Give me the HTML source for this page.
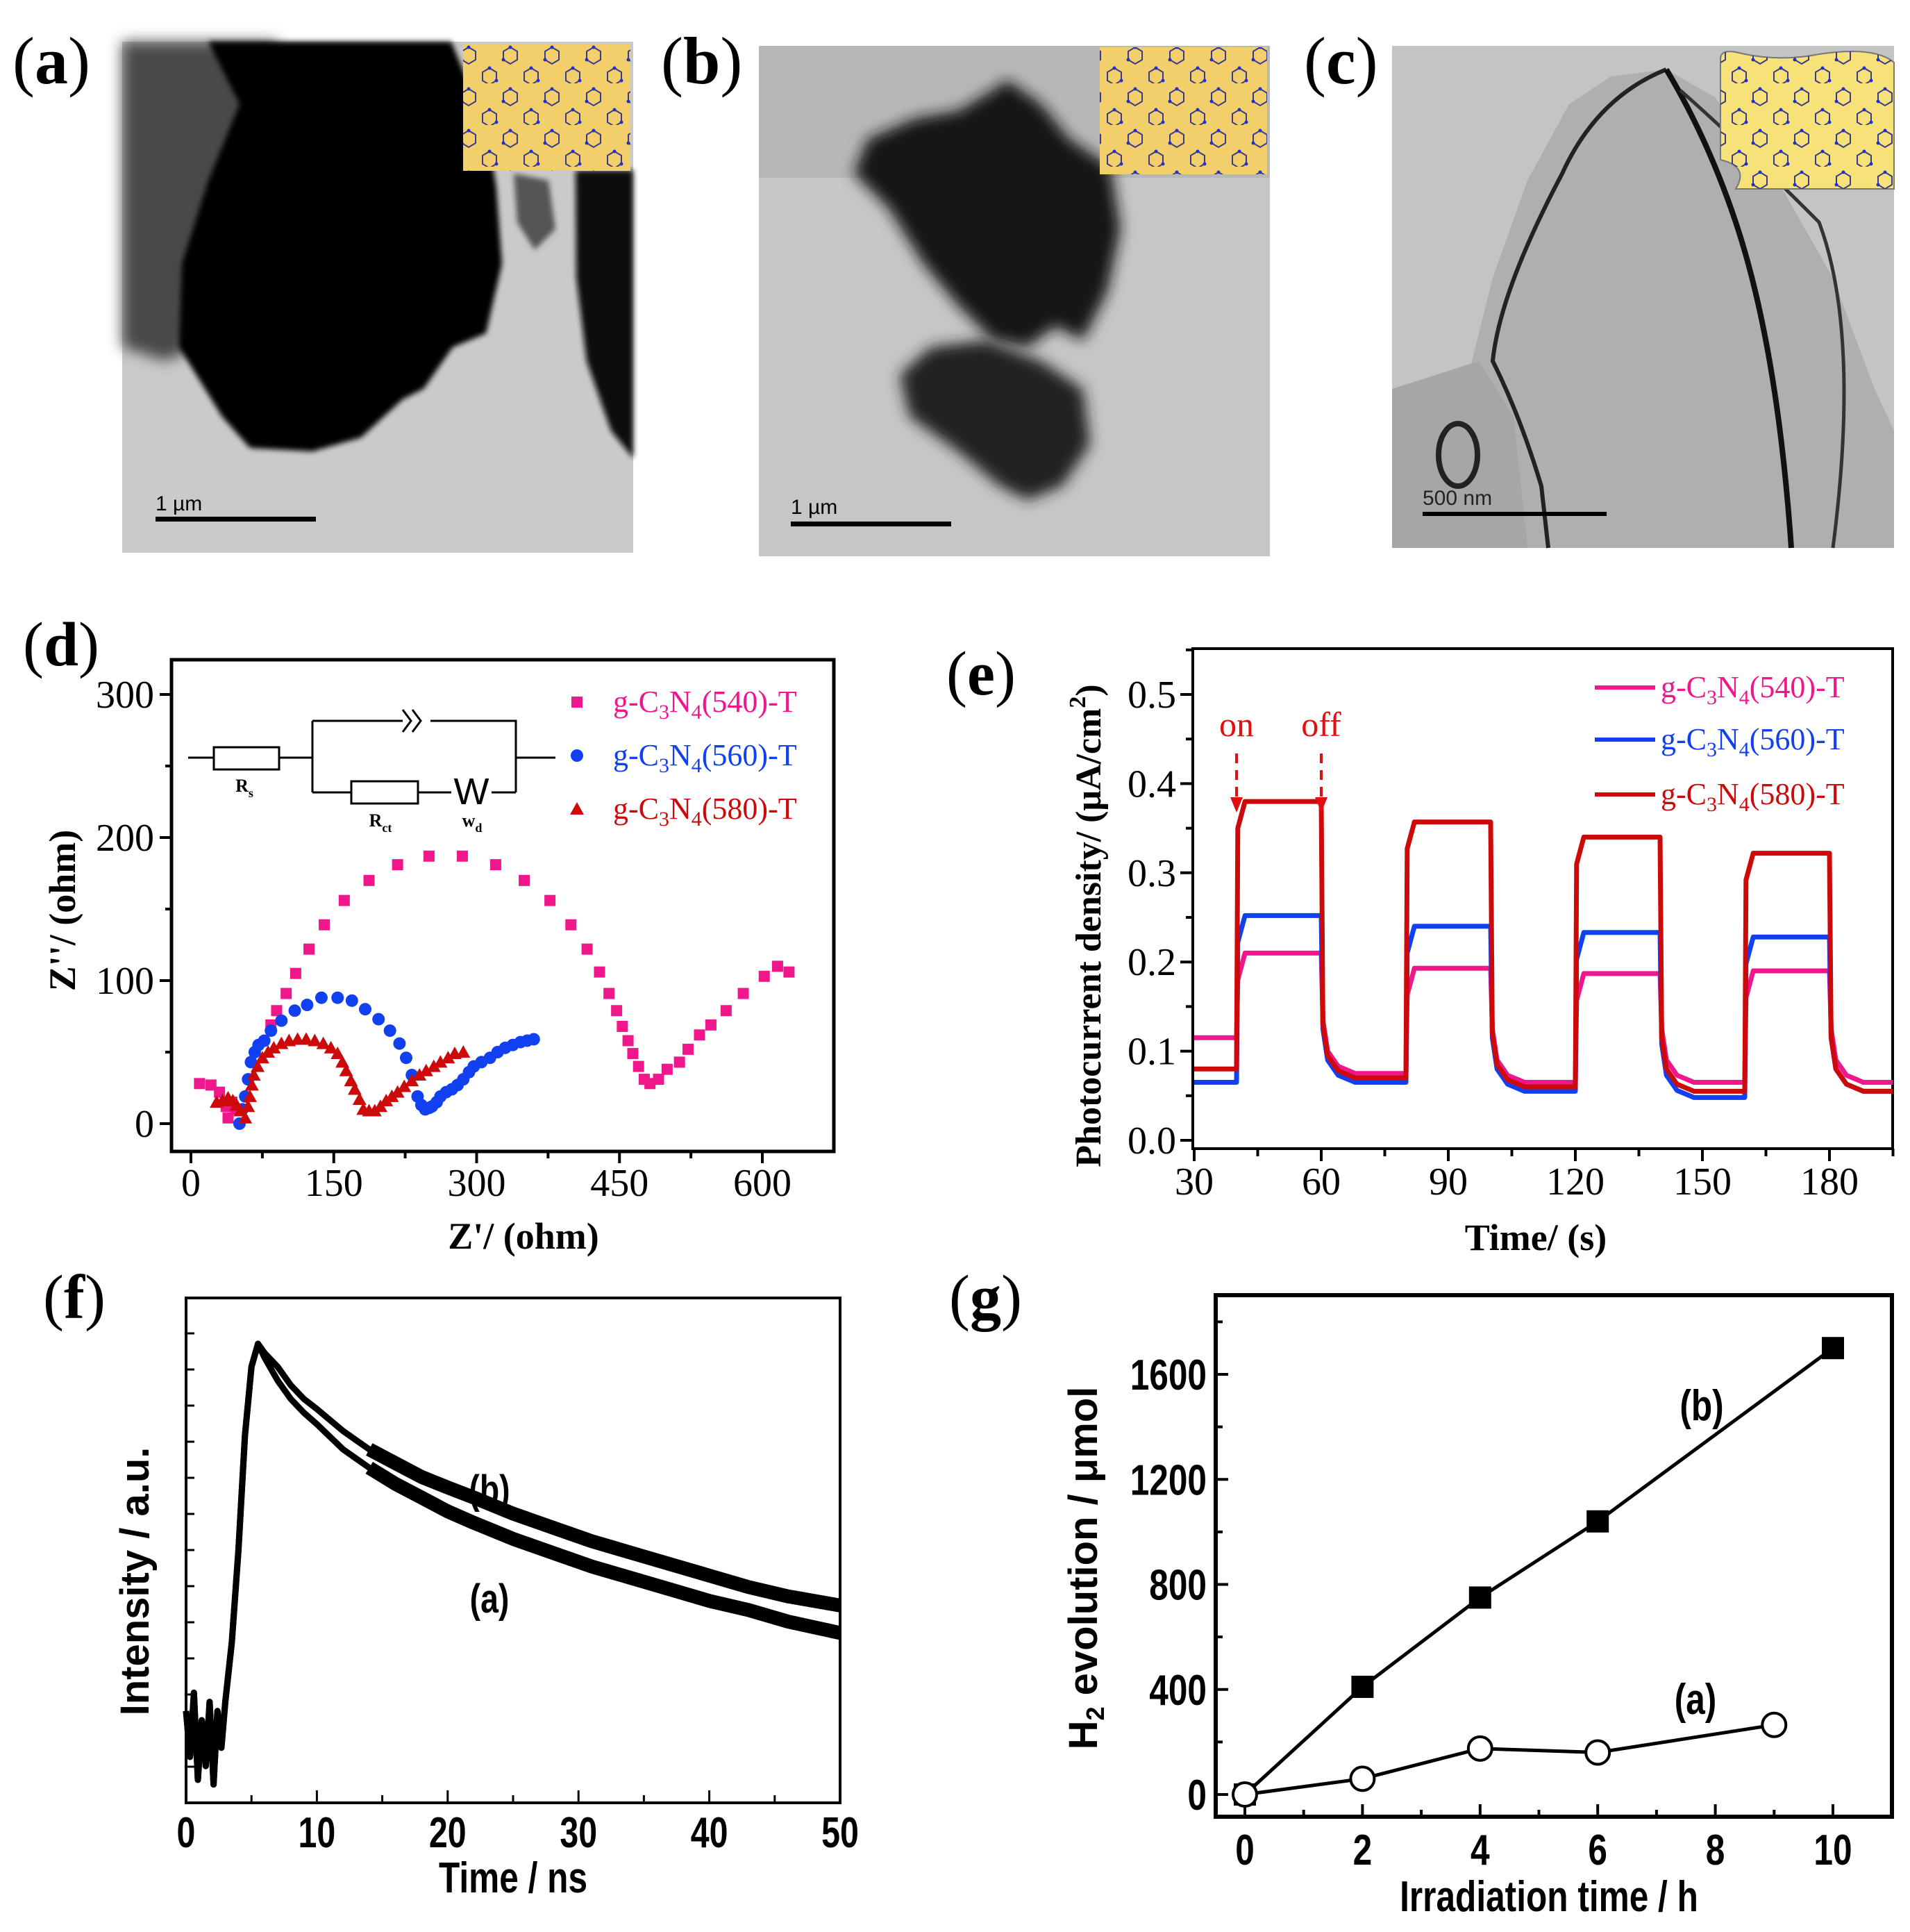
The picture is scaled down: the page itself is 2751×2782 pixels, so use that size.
<!DOCTYPE html>
<html><head><meta charset="utf-8"><style>
html,body{margin:0;padding:0;background:#fff;}
svg{display:block;}
.serif{font-family:"Liberation Serif",serif;}
.sans{font-family:"Liberation Sans",sans-serif;}
</style></head><body>
<svg id="fig" width="2751" height="2782" viewBox="0 0 2751 2782" xmlns="http://www.w3.org/2000/svg">
<defs>
<pattern id="hexpat" width="60" height="60" patternUnits="userSpaceOnUse">
<path d="M15 8 l10 6 v12 l-10 6 l-10 -6 v-12z M45 38 l10 6 v12 l-10 6 l-10 -6 v-12z" fill="none" stroke="#3a3a8a" stroke-width="2"/>
<circle cx="15" cy="8" r="2.5" fill="#2030d0"/><circle cx="5" cy="26" r="2.5" fill="#2030d0"/><circle cx="45" cy="38" r="2.5" fill="#2030d0"/><circle cx="55" cy="56" r="2.5" fill="#2030d0"/>
</pattern>
<filter id="blur4"><feGaussianBlur stdDeviation="4"/></filter>
<filter id="blur10"><feGaussianBlur stdDeviation="10"/></filter>
</defs>

<!-- TEM panel a -->
<g>
<rect x="176" y="60" width="736" height="736" fill="#cacaca"/>
<path d="M176 60 H400 L380 140 L330 240 L290 380 L280 500 L240 520 L176 500Z" fill="#4a4a4a" filter="url(#blur10)"/>
<path d="M240 60 H650 L700 180 L715 270 L723 380 L700 480 L652 500 L610 560 L580 575 L520 630 L450 650 L360 645 L320 600 L258 500 L262 380 L300 260 L345 150 L300 60Z" fill="#050505" filter="url(#blur4)"/>
<path d="M829 245 H912 V660 L880 620 L845 520 L830 400Z" fill="#0a0a0a" filter="url(#blur4)"/>
<path d="M740 250 L790 260 L800 330 L770 360 L745 320Z" fill="#555" filter="url(#blur4)"/>
<rect x="224" y="744" width="231" height="7" fill="#000"/>
<text x="224" y="735" class="sans" font-size="30" fill="#000">1 µm</text>
<rect x="667" y="64" width="241" height="182" fill="#f2cf6a"/>
<rect x="667" y="64" width="241" height="182" fill="url(#hexpat)"/>
</g>
<text x="18" y="120" class="serif" font-size="96">(<tspan font-weight="bold">a</tspan>)</text>

<!-- TEM panel b -->
<g>
<rect x="1093" y="66" width="736" height="735" fill="#c6c6c6"/>
<rect x="1093" y="66" width="736" height="190" fill="#b7b7b7"/>
<path d="M1450 115 L1500 150 L1540 200 L1600 240 L1614 330 L1595 420 L1560 490 L1520 470 L1480 500 L1430 490 L1380 440 L1330 380 L1280 300 L1230 250 L1250 200 L1320 170 L1380 160 L1430 130Z" fill="#161616" filter="url(#blur10)"/>
<path d="M1340 500 L1420 490 L1500 520 L1560 560 L1570 640 L1530 700 L1480 720 L1440 700 L1380 650 L1310 600 L1296 540Z" fill="#222" filter="url(#blur10)"/>
<rect x="1139" y="751" width="231" height="7" fill="#000"/>
<text x="1139" y="740" class="sans" font-size="30" fill="#000">1 µm</text>
<rect x="1584" y="68" width="241" height="183" fill="#f2cf6a"/>
<rect x="1584" y="68" width="241" height="183" fill="url(#hexpat)"/>
</g>
<text x="952" y="120" class="serif" font-size="96">(<tspan font-weight="bold">b</tspan>)</text>

<!-- TEM panel c -->
<g>
<rect x="2005" y="66" width="723" height="723" fill="#c4c4c4"/>
<path d="M2320 110 L2400 100 L2470 140 L2560 260 L2640 400 L2700 560 L2728 620 V789 H2130 L2100 600 L2150 400 L2200 260 L2260 150Z" fill="#afafaf"/>
<path d="M2005 560 L2130 520 L2180 600 L2200 789 H2005Z" fill="#a6a6a6"/>
<path d="M2400 100 Q2300 140 2250 250 Q2160 420 2150 520 Q2190 600 2220 700 L2230 789" fill="none" stroke="#222" stroke-width="6"/>
<path d="M2400 100 Q2460 200 2500 320 Q2560 500 2580 789" fill="none" stroke="#111" stroke-width="8"/>
<path d="M2420 130 Q2500 200 2620 320 Q2680 480 2640 789" fill="none" stroke="#333" stroke-width="5"/>
<ellipse cx="2100" cy="655" rx="28" ry="45" fill="none" stroke="#222" stroke-width="8"/>
<rect x="2049" y="737" width="265" height="6" fill="#000"/>
<text x="2049" y="727" class="sans" font-size="30" fill="#222">500 nm</text>
<path d="M2478 85 Q2478 71 2500 75 Q2560 90 2620 78 Q2700 66 2728 90 V272 H2500 Q2520 240 2478 230Z" fill="#f7e27a" stroke="#777" stroke-width="2"/>
<path d="M2478 85 Q2478 71 2500 75 Q2560 90 2620 78 Q2700 66 2728 90 V272 H2500 Q2520 240 2478 230Z" fill="url(#hexpat)"/>
</g>
<text x="1878" y="120" class="serif" font-size="96">(<tspan font-weight="bold">c</tspan>)</text>

<!-- panel labels lower -->
<text x="33" y="958" class="serif" font-size="90">(<tspan font-weight="bold">d</tspan>)</text>
<text x="1363" y="1000" class="serif" font-size="90">(<tspan font-weight="bold">e</tspan>)</text>
<text x="62" y="1898" class="serif" font-size="90">(<tspan font-weight="bold">f</tspan>)</text>
<text x="1367" y="1898" class="serif" font-size="90">(<tspan font-weight="bold">g</tspan>)</text>

<g id="pd"></g><g id="pe"></g><g id="pf"></g><g id="pg"></g>
</svg>
<script>
// ---------- Panel d data ----------
const d540X=[9,21,30,37,39,43,47,84,90,100,110,124,140,161,187,217,250,285,320,350,377,399,416,429,439,447,453,459,464,470,476,482,491,500,513,522,534,546,562,580,602,616,628];
const d540Y=[28,27,22,12,4,15,10,69,79,91,105,122,139,156,170,181,187,187,181,170,156,139,122,106,91,79,68,58,49,40,31,28,31,38,43,52,62,69,79,91,103,110,106];
const d560X=[51,54,57,60,63,67,71,77,84,95,109,122,137,154,169,183,197,209,219,226,232,238,242,246,250,253,258,262,268,274,280,286,292,297,305,314,322,330,338,346,353,360];
const d560Y=[0,10,19,31,43,50,55,58,65,72,79,83,88,88,86,80,73,65,56,46,34,19,13,10,11,12,15,19,22,24,27,31,36,40,43,46,50,53,55,57,58,59];
const d580X=[27,33,39,44,48,52,57,60,62,64,66,70,75,81,87,95,103,112,121,130,139,147,154,159,163,168,172,177,181,187,193,199,205,211,217,224,232,240,247,255,262,270,277,286];
const d580Y=[15,16,18,16,13,9,4,12,19,27,34,40,46,50,53,56,58,59,59,58,56,53,49,43,37,30,24,17,10,9,9,12,16,19,22,26,30,34,37,40,43,46,49,50];
const dXTicks=[0,150,300,450,600];
const dYTicks=[0,100,200,300];
// ---------- Panel e data ----------
const eOnTimes=[40,80,120,160];
const eOffTimes=[60,100,140,180];
const e540On=[0.21,0.193,0.187,0.19];
const e540Off=[0.115,0.075,0.065,0.065,0.065];
const e560On=[0.252,0.24,0.233,0.228];
const e560Off=[0.065,0.065,0.055,0.048,0.055];
const e580On=[0.38,0.357,0.34,0.322];
const e580Off=[0.08,0.07,0.06,0.055,0.055];
const eXTicks=[30,60,90,120,150,180];
const eYTicks=[0.0,0.1,0.2,0.3,0.4,0.5];
// ---------- Panel f data ----------
const fT=[0,0.3,0.6,0.9,1.2,1.5,1.8,2.1,2.4,2.7,3,3.5,4,4.5,5,5.5,6,7,8,9,10,12,14,16,18,20,22,25,28,31,34,37,40,43,46,50];
const fA=[0.2,0.1,0.24,0.05,0.18,0.08,0.22,0.04,0.2,0.12,0.22,0.35,0.55,0.8,0.95,1.0,0.97,0.92,0.88,0.85,0.825,0.77,0.73,0.695,0.665,0.635,0.61,0.575,0.545,0.515,0.49,0.465,0.44,0.42,0.395,0.37];
const fB=[0.2,0.1,0.24,0.05,0.18,0.08,0.22,0.04,0.2,0.12,0.22,0.35,0.55,0.8,0.95,1.0,0.98,0.95,0.91,0.88,0.858,0.81,0.77,0.74,0.71,0.687,0.665,0.63,0.6,0.57,0.545,0.52,0.495,0.47,0.45,0.43];
const fXTicks=[0,10,20,30,40,50];
// ---------- Panel g data ----------
const gBX=[0,2,4,6,10];
const gBY=[0,410,750,1040,1700];
const gAX=[0,2,4,6,9];
const gAY=[0,60,175,160,265];
const gXTicks=[0,2,4,6,8,10];
const gYTicks=[0,400,800,1200,1600];

const NS='http://www.w3.org/2000/svg';
function mk(parent,tag,attrs){const e=document.createElementNS(NS,tag);for(const k in attrs)e.setAttribute(k,attrs[k]);parent.appendChild(e);return e;}
function txt(parent,x,y,s,attrs){const t=mk(parent,'text',Object.assign({x:x,y:y},attrs));t.textContent=s;return t;}

// ===== Panel d =====
(function(){
const g=document.getElementById('pd');
const X=v=>275+v*(1098-275)/600, Y=v=>1618-v*(1618-1000)/300;
let el=mk(g,'rect',{x:247,y:950,width:954,height:708,fill:'none',stroke:'#000','stroke-width':5});

for(let v=0;v<=675;v+=75){if(X(v)>1199)break;el=mk(g,'line',{x1:X(v),x2:X(v),y1:1658,y2:v%150===0?1675:1668,stroke:'#000','stroke-width':4});}
dXTicks.forEach(v=>{el=txt(g,X(v),1722,String(v),{'text-anchor':'middle','font-size':56,class:'serif'});});
for(let v=0;v<=300;v+=50){el=mk(g,'line',{x1:247,x2:v%100===0?230:238,y1:Y(v),y2:Y(v),stroke:'#000','stroke-width':4});}
dYTicks.forEach(v=>{el=txt(g,222,Y(v)+19,String(v),{'text-anchor':'end','font-size':56,class:'serif'});});
el=txt(g,754,1798,"Z'/ (ohm)",{'text-anchor':'middle','font-size':54,'font-weight':'bold',class:'serif'});
el=txt(g,0,0,"Z''/ (ohm)",{'text-anchor':'middle','font-size':54,'font-weight':'bold',class:'serif',transform:'translate(108,1311) rotate(-90)'});
const c=mk(g,'g',{fill:'none',stroke:'#000','stroke-width':3});

mk(c,'path',{d:'M271 1091 H308 M402 1091 H450 M450 1038 V1141 M450 1038 H580 M620 1038 H743 V1141 M743 1091 H800 M450 1141 H506 M602 1141 H650 M708 1141 H743'});
mk(c,'rect',{x:308,y:1076,width:94,height:32});
mk(c,'rect',{x:506,y:1125,width:96,height:32});
mk(c,'path',{d:'M580 1022 L592 1038 L580 1054 M594 1022 L606 1038 L594 1054'});
txt(g,679,1158,'W',{'text-anchor':'middle','font-size':54,class:'sans'});
el=txt(g,352,1140,'R',{'font-size':26,class:'serif','font-weight':'bold','text-anchor':'middle'});el.innerHTML='R<tspan font-size="18" dy="8">s</tspan>';
el=txt(g,548,1190,'',{'font-size':26,class:'serif','font-weight':'bold','text-anchor':'middle'});el.innerHTML='R<tspan font-size="18" dy="8">ct</tspan>';
el=txt(g,680,1190,'',{'font-size':26,class:'serif','font-weight':'bold','text-anchor':'middle'});el.innerHTML='w<tspan font-size="18" dy="8">d</tspan>';
const cols=['#f0168c','#1040f0','#cc0a0a'];
const sets=[[d540X,d540Y,'square'],[d560X,d560Y,'circle'],[d580X,d580Y,'triangle']];
sets.forEach((s,i)=>{
 const sg=mk(g,'g',{fill:cols[i]});
 
 s[0].forEach((xv,j)=>{
  const x=X(xv),y=Y(s[1][j]);let m;
  if(s[2]==='square')m=mk(sg,'rect',{x:x-8,y:y-8,width:16,height:16});
  else if(s[2]==='circle')m=mk(sg,'circle',{cx:x,cy:y,r:9});
  else m=mk(sg,'path',{d:`M${x} ${y-10} L${x+10} ${y+8} L${x-10} ${y+8}Z`});
  
 });
});
const labs=['540','560','580'];const ly=[1011,1088,1165];
labs.forEach((l,i)=>{
 const lg=mk(g,'g',{});
 if(i===0)mk(lg,'rect',{x:823,y:ly[i]-8,width:16,height:16,fill:cols[i]});
 else if(i===1)mk(lg,'circle',{cx:831,cy:ly[i],r:9,fill:cols[i]});
 else mk(lg,'path',{d:`M831 ${ly[i]-10} L841 ${ly[i]+8} L821 ${ly[i]+8}Z`,fill:cols[i]});
 const t=txt(lg,883,ly[i]+14,'',{'font-size':44,class:'serif',fill:cols[i]});
 t.innerHTML='g-C<tspan font-size="30" dy="10">3</tspan><tspan dy="-10">N</tspan><tspan font-size="30" dy="10">4</tspan><tspan dy="-10">('+l+')-T</tspan>';
});
})();

// ===== Panel e =====
(function(){
const g=document.getElementById('pe');
const X=v=>1720+(v-30)*(2635-1720)/150, Y=v=>1642-v*(1642-1000)/0.5;
let el=mk(g,'rect',{x:1718,y:934,width:1008,height:720,fill:'none',stroke:'#000','stroke-width':4});

for(let v=30;v<=195;v+=15){el=mk(g,'line',{x1:X(v),x2:X(v),y1:1654,y2:(v%30===0)?1672:1665,stroke:'#000','stroke-width':4});}
eXTicks.forEach(v=>{el=txt(g,X(v),1720,String(v),{'text-anchor':'middle','font-size':56,class:'serif'});});
for(let k=0;k<=11;k++){const v=k*0.05;el=mk(g,'line',{x1:1718,x2:k%2===0?1700:1708,y1:Y(v),y2:Y(v),stroke:'#000','stroke-width':4});}
eYTicks.forEach(v=>{el=txt(g,1694,Y(v)+19,v.toFixed(1),{'text-anchor':'end','font-size':56,class:'serif'});});
el=txt(g,2212,1800,'Time/ (s)',{'text-anchor':'middle','font-size':54,'font-weight':'bold',class:'serif'});
el=txt(g,0,0,'',{'text-anchor':'middle','font-size':52,'font-weight':'bold',class:'serif',transform:'translate(1585,1333) rotate(-90)'});
el.innerHTML='Photocurrent density/ (μA/cm<tspan font-size="34" dy="-22">2</tspan><tspan dy="22">)</tspan>';

const cols=['#f0168c','#1040f0','#cc0a0a'];
const series=[[e540On,e540Off],[e560On,e560Off],[e580On,e580Off]];
series.forEach((s,i)=>{
 const on=s[0],off=s[1];let pts=[[30,off[0]]];
 for(let k=0;k<eOnTimes.length;k++){
  const t0=eOnTimes[k],t1=eOffTimes[k];
  pts.push([t0,off[k]],[t0+0.3,on[k]-0.03],[t0+2,on[k]],[t1,on[k]]);
  const nxt=off[k+1];
  pts.push([t1+0.4,nxt+0.06],[t1+1.5,nxt+0.025],[t1+4,nxt+0.008],[t1+8,nxt]);
 }
 pts.push([195,off[off.length-1]]);
 const d=pts.map((p,j)=>(j?'L':'M')+X(p[0]).toFixed(1)+' '+Y(p[1]).toFixed(1)).join(' ');
 const p=mk(g,'path',{d:d,fill:'none',stroke:cols[i],'stroke-width':7,'stroke-linejoin':'round'});
 
});
el=txt(g,X(40),1060,'on',{'text-anchor':'middle','font-size':50,class:'serif',fill:'#e01010'});
el=txt(g,X(60),1060,'off',{'text-anchor':'middle','font-size':50,class:'serif',fill:'#e01010'});
[40,60].forEach(t=>{
 const a=mk(g,'g',{});
 mk(a,'line',{x1:X(t),x2:X(t),y1:1085,y2:1150,stroke:'#e01010','stroke-width':4,'stroke-dasharray':'14 10'});
 mk(a,'path',{d:`M${X(t)-9} 1148 L${X(t)+9} 1148 L${X(t)} 1170Z`,fill:'#e01010'});
});
const ly=[990,1065,1144];
['540','560','580'].forEach((l,i)=>{
 const lg=mk(g,'g',{});
 mk(lg,'line',{x1:2297,x2:2384,y1:ly[i],y2:ly[i],stroke:cols[i],'stroke-width':6});
 const t=txt(lg,2392,ly[i]+14,'',{'font-size':44,class:'serif',fill:cols[i]});
 t.innerHTML='g-C<tspan font-size="30" dy="10">3</tspan><tspan dy="-10">N</tspan><tspan font-size="30" dy="10">4</tspan><tspan dy="-10">('+l+')-T</tspan>';
});
})();

// ===== Panel f =====
(function(){
const g=document.getElementById('pf');
const X=v=>268+v*(1210-268)/50, Y=v=>2596-v*661;
let el=mk(g,'rect',{x:268,y:1869,width:942,height:727,fill:'none',stroke:'#000','stroke-width':4});

for(let v=0;v<=50;v+=5){el=mk(g,'line',{x1:X(v),x2:X(v),y1:2596,y2:v%10===0?2578:2585,stroke:'#000','stroke-width':3});}
for(let k=1;k<=13;k++){el=mk(g,'line',{x1:268,x2:280,y1:2596-52*k,y2:2596-52*k,stroke:'#000','stroke-width':3});}
fXTicks.forEach(v=>{el=txt(g,0,0,String(v),{'text-anchor':'middle','font-size':62,'font-weight':'bold',class:'sans',transform:`translate(${X(v)},2660) scale(0.78,1)`});});
el=txt(g,0,0,'Time / ns',{'text-anchor':'middle','font-size':62,'font-weight':'bold',class:'sans',transform:'translate(739,2725) scale(0.8,1)'});
el=txt(g,0,0,'Intensity / a.u.',{'text-anchor':'middle','font-size':58,'font-weight':'bold',class:'sans',transform:'translate(214,2277) rotate(-90)'});
[[fA,'a'],[fB,'b']].forEach(s=>{
 const d=fT.map((t,j)=>(j?'L':'M')+X(t).toFixed(1)+' '+Y(s[0][j]).toFixed(1)).join(' ');
 const p=mk(g,'path',{d:d,fill:'none',stroke:'#000','stroke-width':9,'stroke-linejoin':'round'});
 
 const tail=[];fT.forEach((t,j)=>{if(t>=14)tail.push(X(t).toFixed(1)+' '+Y(s[0][j]).toFixed(1));});
 const p2=mk(g,'path',{d:'M'+tail.join(' L'),fill:'none',stroke:'#000','stroke-width':20,'stroke-linejoin':'round'});
 
});
el=txt(g,0,0,'(b)',{'text-anchor':'middle','font-size':58,'font-weight':'bold',class:'sans',transform:'translate(705,2165) scale(0.8,1)'});
el=txt(g,0,0,'(a)',{'text-anchor':'middle','font-size':58,'font-weight':'bold',class:'sans',transform:'translate(705,2322) scale(0.8,1)'});
})();

// ===== Panel g =====
(function(){
const g=document.getElementById('pg');
const X=v=>1793+v*(2640-1793)/10, Y=v=>2584-v*(2584-1979)/1600;
let el=mk(g,'rect',{x:1751,y:1865,width:974,height:751,fill:'none',stroke:'#000','stroke-width':6});

for(let v=0;v<=10;v+=1){el=mk(g,'line',{x1:X(v),x2:X(v),y1:2616,y2:v%2===0?2598:2606,stroke:'#000','stroke-width':4});}
for(let v=0;v<=1800;v+=200){el=mk(g,'line',{x1:1751,x2:v%400===0?1769:1761,y1:Y(v),y2:Y(v),stroke:'#000','stroke-width':4});}
gXTicks.forEach(v=>{el=txt(g,0,0,String(v),{'text-anchor':'middle','font-size':62,'font-weight':'bold',class:'sans',transform:`translate(${X(v)},2685) scale(0.8,1)`});});
gYTicks.forEach(v=>{el=txt(g,0,0,String(v),{'text-anchor':'end','font-size':62,'font-weight':'bold',class:'sans',transform:`translate(1738,${Y(v)+22}) scale(0.8,1)`});});
el=txt(g,0,0,'Irradiation time / h',{'text-anchor':'middle','font-size':62,'font-weight':'bold',class:'sans',transform:'translate(2231,2752) scale(0.8,1)'});
el=txt(g,0,0,'',{'text-anchor':'middle','font-size':58,'font-weight':'bold',class:'sans',transform:'translate(1580,2258) rotate(-90)'});
el.innerHTML='H<tspan font-size="36" dy="10">2</tspan><tspan dy="-10"> evolution / μmol</tspan>';

let d=gBX.map((x,j)=>(j?'L':'M')+X(x)+' '+Y(gBY[j])).join(' ');
el=mk(g,'path',{d:d,fill:'none',stroke:'#000','stroke-width':5});
d=gAX.map((x,j)=>(j?'L':'M')+X(x)+' '+Y(gAY[j])).join(' ');
el=mk(g,'path',{d:d,fill:'none',stroke:'#000','stroke-width':5});
gBX.forEach((x,j)=>{el=mk(g,'rect',{x:X(x)-16,y:Y(gBY[j])-16,width:32,height:32,fill:'#000'});});
gAX.forEach((x,j)=>{el=mk(g,'circle',{cx:X(x),cy:Y(gAY[j]),r:17,fill:'#fff',stroke:'#000','stroke-width':4});});
el=txt(g,0,0,'(b)',{'text-anchor':'middle','font-size':62,'font-weight':'bold',class:'sans',transform:'translate(2451,2045) scale(0.8,1)'});
el=txt(g,0,0,'(a)',{'text-anchor':'middle','font-size':62,'font-weight':'bold',class:'sans',transform:'translate(2442,2468) scale(0.8,1)'});
})();
</script>
</body></html>
